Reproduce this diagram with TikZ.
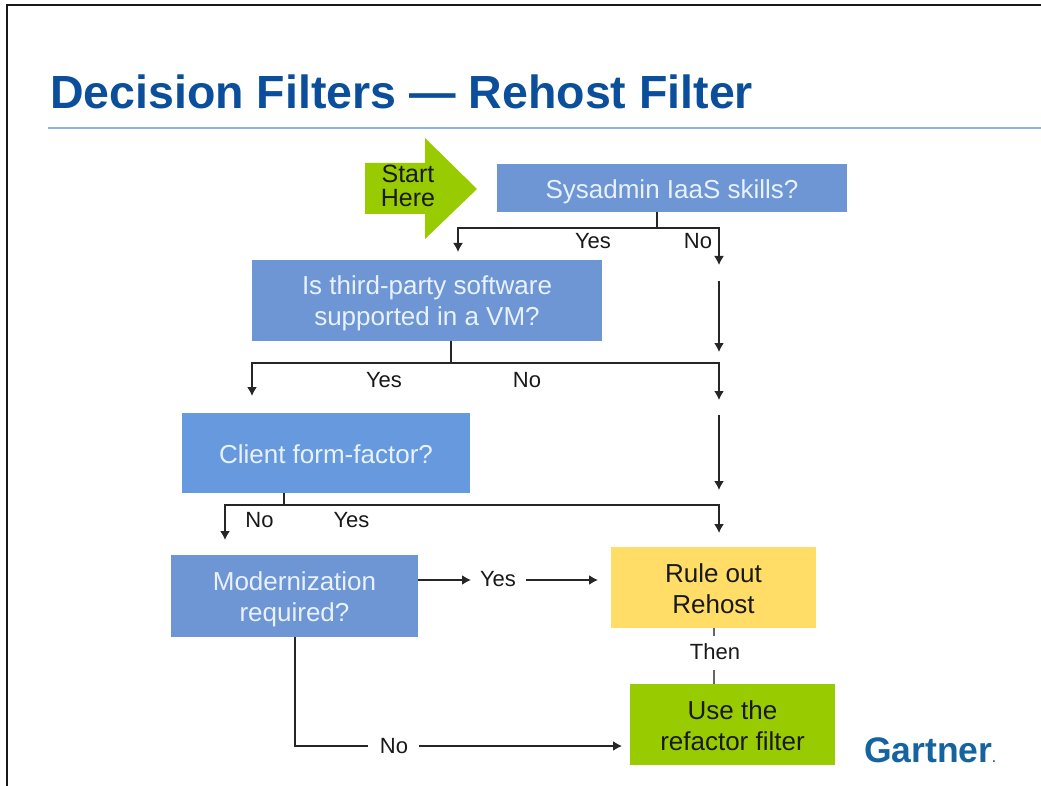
\documentclass[tikz,border=0pt]{standalone}
\usepackage{fontspec}
\setmainfont{Liberation Sans}
\usetikzlibrary{arrows.meta}
\definecolor{boxblue}{HTML}{6E96D4}
\definecolor{clientblue}{HTML}{6699DD}
\definecolor{ruleyellow}{HTML}{FFDD66}
\definecolor{usegreen}{HTML}{99CC00}
\definecolor{titleblue}{HTML}{0B4F9C}
\definecolor{rulelineblue}{HTML}{8DB4EA}
\definecolor{logoblue}{HTML}{15649F}
\definecolor{lightbluetext}{HTML}{E8F2FF}
\tikzset{
  x=1pt,y=-1pt,
  boxnode/.style={inner sep=0pt,outer sep=0pt},
  boxtext/.style={inner sep=0pt,align=center,font=\fontsize{26}{31}\selectfont},
  lab/.style={inner sep=0pt,font=\fontsize{22}{26}\selectfont,text=black!90},
  link/.style={draw=black!85,line width=1.6pt},
  flow/.style={link,-{Latex[length=9pt,width=10pt]}},
}
% name, fill, text colour, x0, y0, x1, y1, then #8 = downward text offset, #9 = text
\newcommand{\boxat}[9]{%
  \node[boxnode,fill=#2,minimum width=#6pt-#4pt,minimum height=#7pt-#5pt,
        label={[boxtext,text=#3,yshift=-#8pt]center:#9}] (#1) at ({(#4+#6)/2},{(#5+#7)/2}) {};}
\begin{document}
\begin{tikzpicture}
\useasboundingbox (0,0) rectangle (1041,786);
\fill[white] (0,0) rectangle (1041,786);
% slide frame
\coordinate (fa) at (7,786);
\coordinate (fb) at (7,5);
\coordinate (fc) at (1041,5);
\draw[black!90,line width=1.6pt] (fa) -- (fb) -- (fc);
% title
\node[anchor=base west,inner sep=0pt,text=titleblue,font=\fontsize{46.5}{50}\selectfont\bfseries] (title) at (50,108.5) {Decision Filters — Rehost Filter};
\coordinate (ra) at (48,128.5);
\coordinate (rb) at (1041,128.5);
\draw[rulelineblue,line width=2pt] (ra) -- (rb);
% boxes
\boxat{sys}{boxblue}{lightbluetext}{497}{164}{847}{212}{3.5}{Sysadmin IaaS skills?}
\boxat{third}{boxblue}{lightbluetext}{252}{260}{602}{341}{3}{Is third-party software\\supported in a VM?}
\boxat{client}{clientblue}{lightbluetext}{182}{413}{470}{493}{1.5}{Client form-factor?}
\boxat{modern}{boxblue}{lightbluetext}{171}{555}{418}{637}{3.5}{Modernization\\required?}
\boxat{ruleout}{ruleyellow}{black!90}{611}{547}{816}{628}{1.5}{Rule out\\Rehost}
\boxat{use}{usegreen}{black!90}{630}{684}{835}{765}{1.5}{Use the\\refactor filter}
% start arrow
\path[fill=usegreen] (365,163) -- (425,163) -- (425,138) -- (477,189) -- (425,239) -- (425,214) -- (365,214) -- cycle;
\node[inner sep=0pt,align=center,text=black!90,font=\fontsize{25}{24}\selectfont] (start) at (408,186) {Start\\Here};
% labels
\node[lab] (y1) at (593,241.5) {Yes};
\node[lab] (n1) at (698,241.5) {No};
\node[lab] (y2) at (384,380) {Yes};
\node[lab] (n2) at (527,380) {No};
\node[lab] (n3) at (259.5,520) {No};
\node[lab] (y3) at (351.5,520) {Yes};
\node[lab] (y4) at (498,579) {Yes};
\node[lab] (n4) at (394,746) {No};
\node[lab] (then) at (715,652) {Then};
% coordinates
\coordinate (a1) at (657,228);
\coordinate (a1l) at (458,228);
\coordinate (a1la) at (458,252);
\coordinate (a1r) at (719,228);
\coordinate (a1ra) at (719,265);
\coordinate (s1) at (719,281);
\coordinate (s1e) at (719,352);
\coordinate (a2) at (451,363);
\coordinate (a2l) at (252,363);
\coordinate (a2la) at (252,396);
\coordinate (a2r) at (719,363);
\coordinate (a2ra) at (719,400);
\coordinate (s2) at (719,415);
\coordinate (s2e) at (719,490);
\coordinate (a3) at (284,505);
\coordinate (a3l) at (225,505);
\coordinate (a3la) at (225,540);
\coordinate (a3r) at (719,505);
\coordinate (a3ra) at (719,533);
\coordinate (m1) at (471,580);
\coordinate (m2) at (526,580);
\coordinate (m3) at (598,580);
\coordinate (m4) at (295,746);
\coordinate (m5) at (368,746);
\coordinate (m6) at (419,746);
\coordinate (m7) at (622,746);
\coordinate (t1) at (714,636);
\coordinate (t2) at (714,670);
% connectors
\draw[link] (a1 |- sys.south) -- (a1);
\draw[flow] (a1) -- (a1l) -- (a1la);
\draw[flow] (a1) -- (a1r) -- (a1ra);
\draw[flow] (s1) -- (s1e);
\draw[link] (a2 |- third.south) -- (a2);
\draw[flow] (a2) -- (a2l) -- (a2la);
\draw[flow] (a2) -- (a2r) -- (a2ra);
\draw[flow] (s2) -- (s2e);
\draw[link] (a3 |- client.south) -- (a3);
\draw[flow] (a3) -- (a3l) -- (a3la);
\draw[flow] (a3) -- (a3r) -- (a3ra);
\draw[flow] (modern.east |- m1) -- (m1);
\draw[flow] (m2) -- (m3);
\draw[link] (m4 |- modern.south) -- (m4) -- (m5);
\draw[flow] (m6) -- (m7);
\draw[link,black!60] (t1 |- ruleout.south) -- (t1);
\draw[link,black!60] (t2) -- (t2 |- use.north);
% logo
\node[anchor=base west,inner sep=0pt,text=logoblue,font=\fontsize{35.5}{40}\selectfont\bfseries] (logo) at (864,762) {Gartner{\fontsize{12}{14}\selectfont.}};
\end{tikzpicture}
\end{document}
